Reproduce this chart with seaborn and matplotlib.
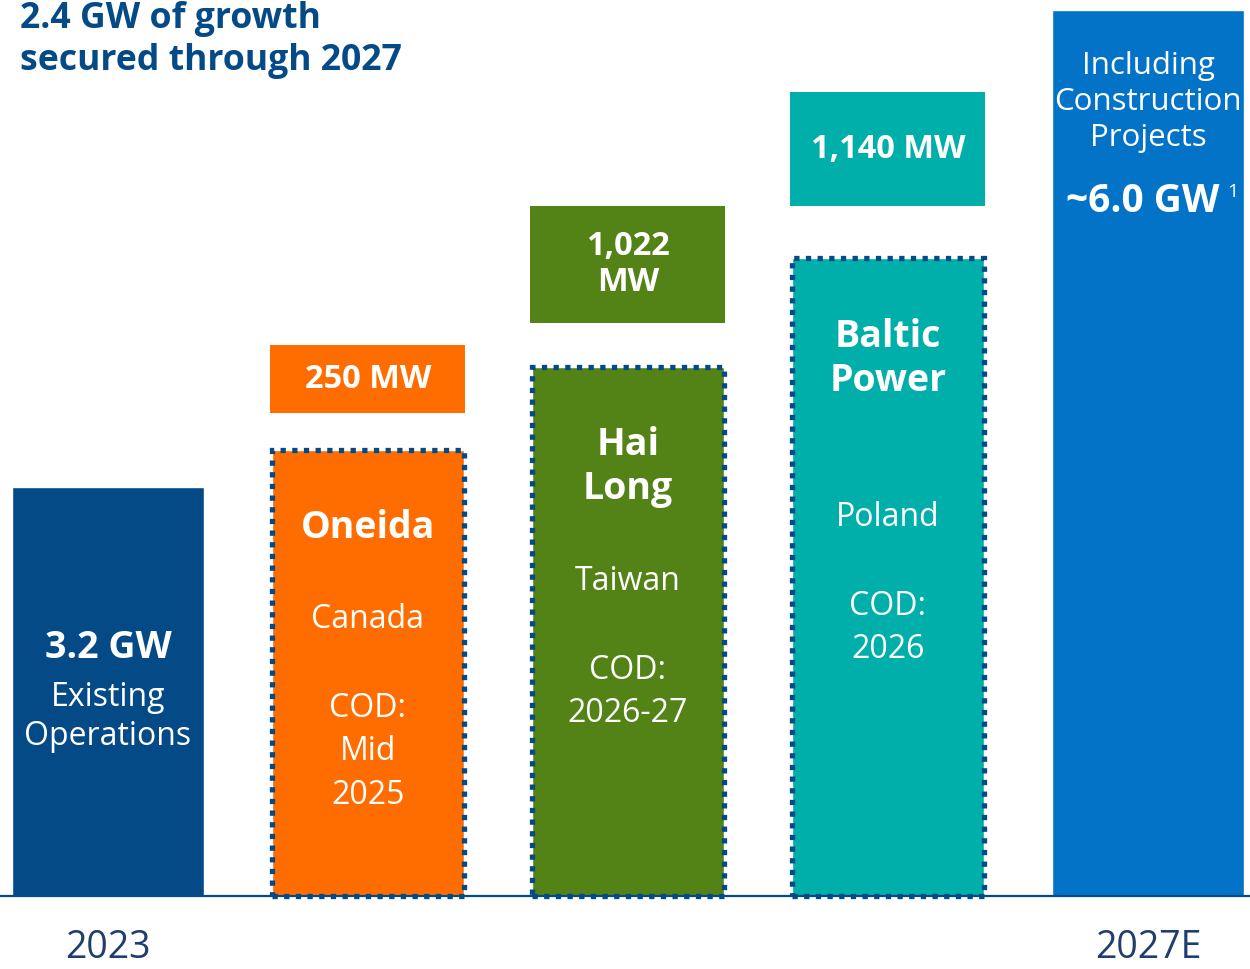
import numpy as np
import pandas as pd
import matplotlib
matplotlib.use("Agg")
import matplotlib.pyplot as plt
import seaborn as sns

# DATA (bar heights in chart units above the baseline)
categories = ["2023", "Oneida", "Hai Long", "Baltic Power", "2027E"]
bar_heights = [409, 446, 529, 638, 886]
bar_colors = ["#044A87", "#FF6D00", "#538316", "#00AFA9", "#0373C8"]
tick_labels = ["2023", "", "", "", "2027E"]
added_mw = ["250 MW", "1,022\nMW", "1,140 MW"]
box_bottom = [483, 573, 690]
box_height = [68, 117, 114]
project_names = ["Oneida", "Hai\nLong", "Baltic\nPower"]
project_country = ["Canada", "Taiwan", "Poland"]
project_cod = ["COD:\nMid\n2025", "COD:\n2026-27", "COD:\n2026"]

DARK = "#044A87"
sns.set_theme(style="white")
plt.rcParams["font.family"] = ["Open Sans", "DejaVu Sans"]
plt.rcParams["lines.scale_dashes"] = False  # dash pattern in points

fig = plt.figure(figsize=(12.5, 9.69), dpi=100)
ax = fig.add_axes([0, 73 / 969, 1, 896 / 969])

df = pd.DataFrame({"cat": categories, "h": bar_heights})
sns.barplot(data=df, x="cat", y="h", hue="cat", palette=bar_colors,
            width=0.74, saturation=1, legend=False, ax=ax)

# dotted outline on the three project bars
outline = ax.bar([1, 2, 3], bar_heights[1:4], width=0.74, fill=False,
                 edgecolor=DARK, linewidth=3.8, linestyle=(0, (3.8, 4.6)),
                 clip_on=False, zorder=4)
for p in outline:
    p.set_capstyle("butt")
    p.set_joinstyle("miter")

# added-capacity boxes above project bars
ax.bar([1, 2, 3], box_height, bottom=box_bottom, width=0.75,
       color=bar_colors[1:4], linewidth=0)

ax.set_xlim(-108 / 260, (1250 - 108) / 260)
ax.set_ylim(0, 896)
ax.set_ylabel("")
ax.set_xlabel("")
ax.set_yticks([])
ax.set_xticks(range(5))
ax.set_xticklabels(tick_labels, fontsize=27, color="#1F3E6E")
ax.tick_params(axis="x", length=0, pad=24)
for s in ["top", "left", "right"]:
    ax.spines[s].set_visible(False)
ax.spines["bottom"].set_color(DARK)
ax.spines["bottom"].set_linewidth(1.6)

W = "white"
bold = dict(color=W, fontweight="bold", ha="center", va="center", fontsize=27,
            linespacing=1.2)
reg = dict(color=W, ha="center", va="center", fontsize=23, linespacing=1.26)

# existing operations bar
ax.text(0, 896 - 648, "3.2 GW", **bold)
ax.text(0, 896 - 717, "Existing\nOperations", **reg)

# project bars
name_y = [896 - 528, 896 - 467, 896 - 359]
country_y = [896 - 619, 896 - 581, 896 - 517]
cod_y = [896 - 752, 896 - 692, 896 - 628]
for k in range(3):
    x = k + 1
    ax.text(x, name_y[k], project_names[k], **bold)
    ax.text(x, country_y[k], project_country[k], **reg)
    ax.text(x, cod_y[k], project_cod[k], **dict(reg, linespacing=1.41))
    ax.text(x, box_bottom[k] + box_height[k] / 2, added_mw[k],
            **dict(bold, fontsize=23.5, linespacing=1.15))

# 2027E bar
ax.text(4, 896 - 102, "Including\nConstruction\nProjects", **dict(reg, fontsize=22.5))
ax.text(3.98, 896 - 202, "~6.0 GW", **dict(bold, fontsize=28))
ax.text(4.327, 896 - 192, "1", color=W, fontsize=14, ha="center", va="center")

# title
fig.text(20 / 1250, 1 - 40 / 969, "2.4 GW of growth\nsecured through 2027",
         color=DARK, fontweight="bold", fontsize=25.7, ha="left", va="center",
         linespacing=1.25)

fig.savefig("out.png", dpi=100)
